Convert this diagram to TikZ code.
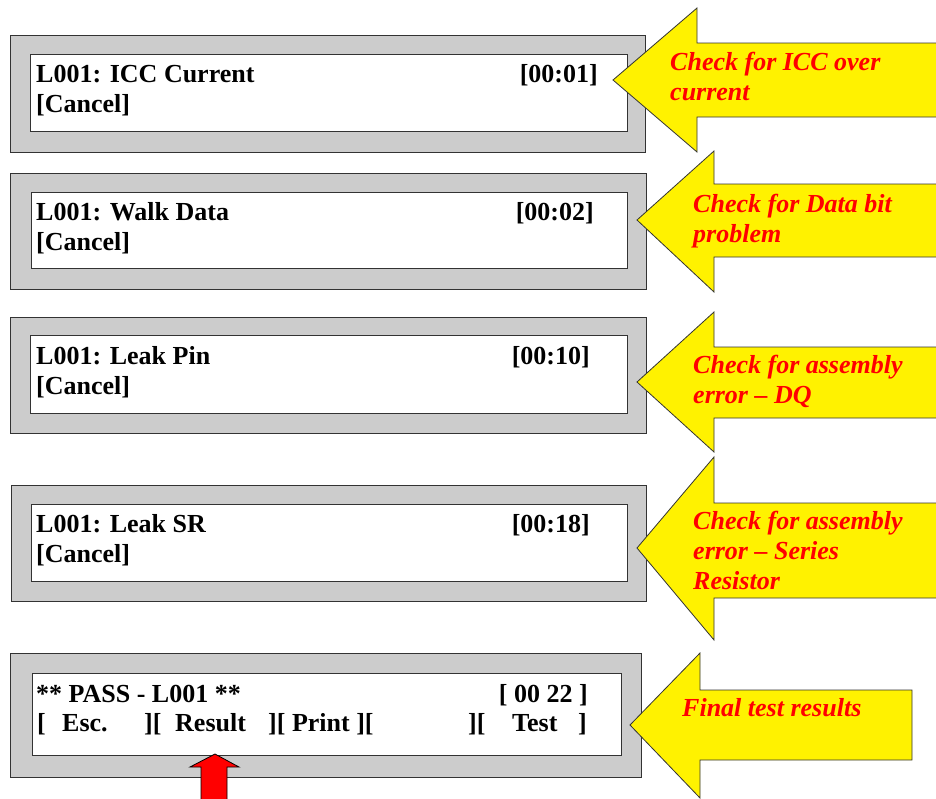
\documentclass[tikz,border=0pt]{standalone}
\usepackage{fontspec}
\setmainfont{Liberation Serif}
\usepackage{xcolor}
\usetikzlibrary{positioning}
\definecolor{panelgray}{RGB}{204,204,204}
\definecolor{edgegray}{RGB}{51,51,51}

\begin{document}
\begin{tikzpicture}[x=1pt,y=-1pt,
                panel/.style = {draw=edgegray, line width=1.2pt, fill=panelgray, anchor=north west, inner sep=0pt},
                screen/.style = {draw=edgegray, line width=1.2pt, fill=white, anchor=north west, inner sep=0pt},
                lcd/.style = {anchor=base west, inner sep=0pt, font=\fontsize{26}{30}\selectfont\bfseries},
                clock/.style = {lcd, anchor=base east},
                callout/.style = {fill=yellow, draw=edgegray, line width=0.8pt},
                note/.style = {anchor=north west, inner sep=0pt, align=left, text=red,
                               font=\fontsize{26}{30}\selectfont\bfseries\itshape}]
            \useasboundingbox (0,0) rectangle (936,798);
            \clip (0,0) rectangle (936,798);
            % screens
            \node[panel, minimum width=635pt, minimum height=117pt] (p1) at (10,35) {};
            \node[screen, minimum width=597pt, minimum height=77pt] (s1) at (30,54) {};
            \node[lcd] (t1) at (36,82) {L001: ICC Current};
            \node[lcd] (k1) at (36,112) {[Cancel]};
            \node[clock] (c1) at (598,82) {[00:01]};

            \node[panel, minimum width=636pt, minimum height=116pt] (p2) at (10,173) {};
            \node[screen, minimum width=596pt, minimum height=76pt] (s2) at (31,192) {};
            \node[lcd] (t2) at (36,220) {L001: Walk Data};
            \node[lcd] (k2) at (36,250) {[Cancel]};
            \node[clock] (c2) at (594,220) {[00:02]};

            \node[panel, minimum width=636pt, minimum height=116pt] (p3) at (10,317) {};
            \node[screen, minimum width=597pt, minimum height=78pt] (s3) at (30,335) {};
            \node[lcd] (t3) at (36,364) {L001: Leak Pin};
            \node[lcd] (k3) at (36,394) {[Cancel]};
            \node[clock] (c3) at (590,364) {[00:10]};

            \node[panel, minimum width=635pt, minimum height=116pt] (p4) at (11,485) {};
            \node[screen, minimum width=596pt, minimum height=77pt] (s4) at (31,504) {};
            \node[lcd] (t4) at (36,532) {L001: Leak SR};
            \node[lcd] (k4) at (36,562) {[Cancel]};
            \node[clock] (c4) at (590,532) {[00:18]};

            \node[panel, minimum width=631pt, minimum height=124pt] (p5) at (10,653) {};
            \node[screen, minimum width=589pt, minimum height=82pt] (s5) at (32,673) {};
            \node[lcd] (t5) at (36,702) {** PASS - L001 **};
            \node[clock] (c5) at (588,702) {[ 00 22 ]};
            \foreach \x/\key in {37/{[}, 62/Esc., 144/{][}, 175/Result, 268/{][ Print ][}, 468/{][}, 512/Test, 578/{]}}
                \node[lcd] at (\x,731) {\key};
            % callouts
            \draw[callout] (613,80) -- (697,8) -- (697,43) -- (940,43) -- (940,117) -- (697,117) -- (697,152) -- cycle;
            \node[note] (n1) at (670,52) {Check for ICC  over\\current};
            \draw[callout] (637,220) -- (714,151) -- (714,184) -- (940,184) -- (940,257) -- (714,257) -- (714,292) -- cycle;
            \node[note] (n2) at (693,194) {Check for Data bit\\problem};
            \draw[callout] (637,382) -- (714,312) -- (714,347) -- (940,347) -- (940,418) -- (714,418) -- (714,452) -- cycle;
            \node[note] (n3) at (693,355) {Check for assembly\\error -- DQ};
            \draw[callout] (637,548) -- (714,457) -- (714,503) -- (940,503) -- (940,598) -- (714,598) -- (714,640) -- cycle;
            \node[note] (n4) at (693,511) {Check for assembly\\error -- Series\\Resistor};
            \draw[callout] (630,725) -- (700,653) -- (700,690) -- (912,690) -- (912,760) -- (700,760) -- (700,798) -- cycle;
            \node[note] (n5) at (682,698) {Final test results};
            % pointer to result key
            \draw[fill=red, draw=black, line width=0.8pt] (215,754) -- (239,767) -- (227,767) -- (227,800) -- (201,800) -- (201,767) -- (190,767) -- cycle;
            \end{tikzpicture}
\end{document}
